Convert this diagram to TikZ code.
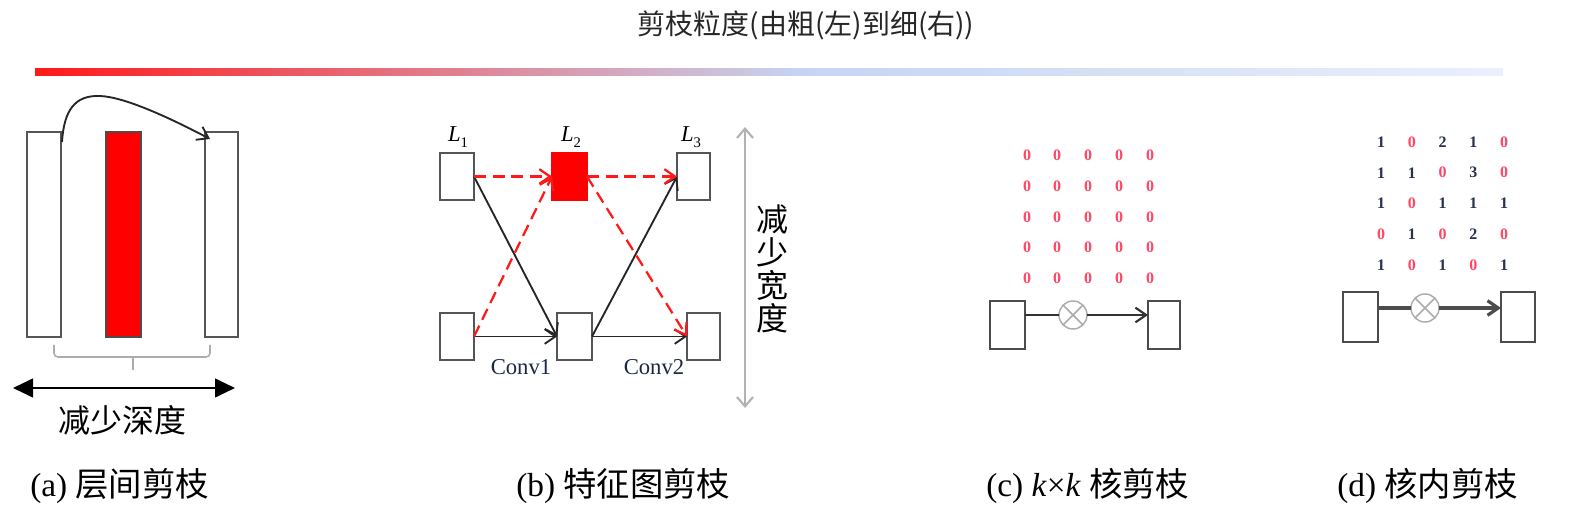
\documentclass[tikz,border=0pt]{standalone}
\usepackage{fontspec}
\setmainfont{Liberation Serif}
\newfontfamily\cjk{Noto Sans CJK SC}
\usetikzlibrary{arrows.meta,calc}
\def\pxl{0.75pt}
\definecolor{boxgray}{RGB}{85,85,85}
\definecolor{dred}{RGB}{255,25,25}
\definecolor{zred}{RGB}{255,70,100}
\definecolor{nblue}{RGB}{40,50,80}
\definecolor{lblue}{RGB}{198,212,242}
\definecolor{pblue}{RGB}{234,240,252}
\definecolor{convc}{RGB}{28,40,64}
\begin{document}
\begin{tikzpicture}[x=0.75pt,y=-0.75pt,
  rbox/.style={draw=boxgray, line width=1.4pt, fill=white, inner sep=0pt, outer sep=0pt},
  tbox/.style={draw=gray!60!black, line width=1.7pt, fill=white, inner sep=0pt, outer sep=0pt},
  wh/.style 2 args={minimum width=#1*\pxl, minimum height=#2*\pxl},
  barb/.style={-{Straight Barb[length=8pt,width=11pt]}},
  rdash/.style={draw=dred, line width=1.7pt, dash pattern=on 9pt off 5pt, barb},
  blk/.style={draw=black!85, line width=1.4pt, barb},
  num/.style={font=\fontsize{12}{12}\selectfont\bfseries, inner sep=0pt},
  cjkbig/.style={font=\cjk\fontsize{24}{24.75}\selectfont},
  captext/.style={anchor=west, font=\fontsize{25}{25}\selectfont, inner sep=0pt},
  xcirc/.style={circle, draw=gray!65, line width=1.1pt, fill=white, minimum size=28*\pxl, inner sep=0pt, outer sep=0pt}
]
\useasboundingbox (0,0) rectangle (1586,520);

% title and gradient bar
\node[font=\cjk\fontsize{21}{21}\selectfont, text=black!85] (title) at (806,25) {剪枝粒度(由粗(左)到细(右))};
\shade[left color=dred, right color=lblue] (35,68.5) rectangle (800,75.5);
\shade[left color=lblue, right color=pblue] (800,68.5) rectangle (1503,75.5);

% ---- panel (a)
\node[rbox, wh={34}{205}] (a1) at (44,234.5) {};
\node[rbox, wh={35}{205}, fill=red, draw=black!70] (a2) at (123.5,234.5) {};
\node[rbox, wh={33}{205}] (a3) at (221.5,234.5) {};
\draw[line width=1.4pt, black!85, -{Straight Barb[length=8pt,width=11pt]}]
  ($(a1.north east)+(1,10)$) .. controls (64,110) and (75,95) .. (100,96)
  .. controls (125,97) and (170,118) .. ($(a3.north west)+(5,7)$);
\draw[gray!65, line width=1.2pt, rounded corners=3] (54,345) -- (54,357) -- (210,357) -- (210,345);
\draw[gray!65, line width=1.2pt] (133,357) -- (133,370);
\coordinate (dl) at (13,388);
\coordinate (dr) at (235,388);
\draw[line width=1.6pt, {Triangle[length=15pt,width=14pt]}-{Triangle[length=15pt,width=14pt]}] (dl) -- (dr);
\node[cjkbig] (ta) at (122,420) {减少深度};

% ---- panel (b)
\node[rbox, wh={34}{47}] (b11) at (457,176.5) {};
\node[rbox, wh={35}{47}, fill=red, draw=red] (b12) at (569.5,176.5) {};
\node[rbox, wh={33}{47}] (b13) at (693.5,176.5) {};
\node[rbox, wh={34}{47}] (b21) at (457,336.5) {};
\node[rbox, wh={35}{47}] (b22) at (574.5,336.5) {};
\node[rbox, wh={33}{47}] (b23) at (703.5,336.5) {};
\node[font=\fontsize{17}{17}\selectfont] (l1) at (458,137) {\textit{L}\raisebox{-0.25em}{\fontsize{11}{11}\selectfont 1}};
\node[font=\fontsize{17}{17}\selectfont] (l2) at (571,137) {\textit{L}\raisebox{-0.25em}{\fontsize{11}{11}\selectfont 2}};
\node[font=\fontsize{17}{17}\selectfont] (l3) at (691,137) {\textit{L}\raisebox{-0.25em}{\fontsize{11}{11}\selectfont 3}};
\draw[blk] (b11.east) -- (b22.west);
\draw[blk] (b21.east) -- (b22.west);
\draw[blk] (b22.east) -- (b13.west);
\draw[blk] (b22.east) -- (b23.west);
\draw[rdash] (b11.east) -- (b12.west);
\draw[rdash] (b12.east) -- (b13.west);
\draw[rdash] (b21.east) -- (b12.west);
\draw[rdash] (b12.east) -- (b23.west);
\node[font=\fontsize{17}{17}\selectfont, text=convc] (cv1) at (521,367) {Conv1};
\node[font=\fontsize{17}{17}\selectfont, text=convc] (cv2) at (654,367) {Conv2};
\coordinate (wt) at (745,127);
\coordinate (wb) at (745,408);
\draw[gray!60, line width=1.6pt, {Straight Barb[length=7pt,width=12pt]}-{Straight Barb[length=7pt,width=12pt]}] (wt) -- (wb);
\node[cjkbig, align=center] (tw) at (772,269) {减\\少\\宽\\度};

% ---- panel (c)
\foreach \r [count=\i] in {155,186,217,247,278} {
  \foreach \c [count=\j] in {1027,1057,1088,1119,1150} {
    \node[num, text=zred] (c-\i-\j) at (\c,\r) {0};
  }
}
\node[tbox, wh={35}{48}] (c1) at (1007.5,325) {};
\node[tbox, wh={32}{48}] (c2) at (1164,325) {};
\node[xcirc] (cx1) at (1073,315) {};
\draw[gray!65, line width=1.1pt] (cx1.north east) -- (cx1.south west) (cx1.north west) -- (cx1.south east);
\draw[line width=1.6pt, black!80] ($(c1.east)+(0,-10)$) -- (cx1.west);
\draw[line width=1.6pt, black!80, barb] (cx1.east) -- ($(c2.west)+(0,-10)$);

% ---- panel (d)
\foreach \vals [count=\i] in {{1,0,2,1,0},{1,1,0,3,0},{1,0,1,1,1},{0,1,0,2,0},{1,0,1,0,1}} {
  \foreach \v [count=\j] in \vals {
    \ifnum\v=0 \def\nc{zred}\else\def\nc{nblue}\fi
    \node[num, text=\nc] (d-\i-\j) at ({1381+(\j-1)*30.75},{142+(\i-1)*30.75}) {\v};
  }
}
\node[tbox, wh={35}{50}] (d1) at (1360.5,317) {};
\node[tbox, wh={34}{50}] (d2) at (1518,317) {};
\node[xcirc] (cx2) at (1425,308) {};
\draw[gray!65, line width=1.1pt] (cx2.north east) -- (cx2.south west) (cx2.north west) -- (cx2.south east);
\draw[line width=2.4pt, black!70] ($(d1.east)+(0,-9)$) -- (cx2.west);
\draw[line width=2.4pt, black!70, barb] (cx2.east) -- ($(d2.west)+(0,-9)$);

% ---- captions
\node[captext] (capa) at (30,486) {(a)\ {\cjk 层间剪枝}};
\node[captext] (capb) at (516,486) {(b)\ {\cjk 特征图剪枝}};
\node[captext] (capc) at (986,486) {(c)\ \textit{k}×\textit{k}\ {\cjk 核剪枝}};
\node[captext] (capd) at (1337,486) {(d)\ {\cjk 核内剪枝}};
\end{tikzpicture}
\end{document}
